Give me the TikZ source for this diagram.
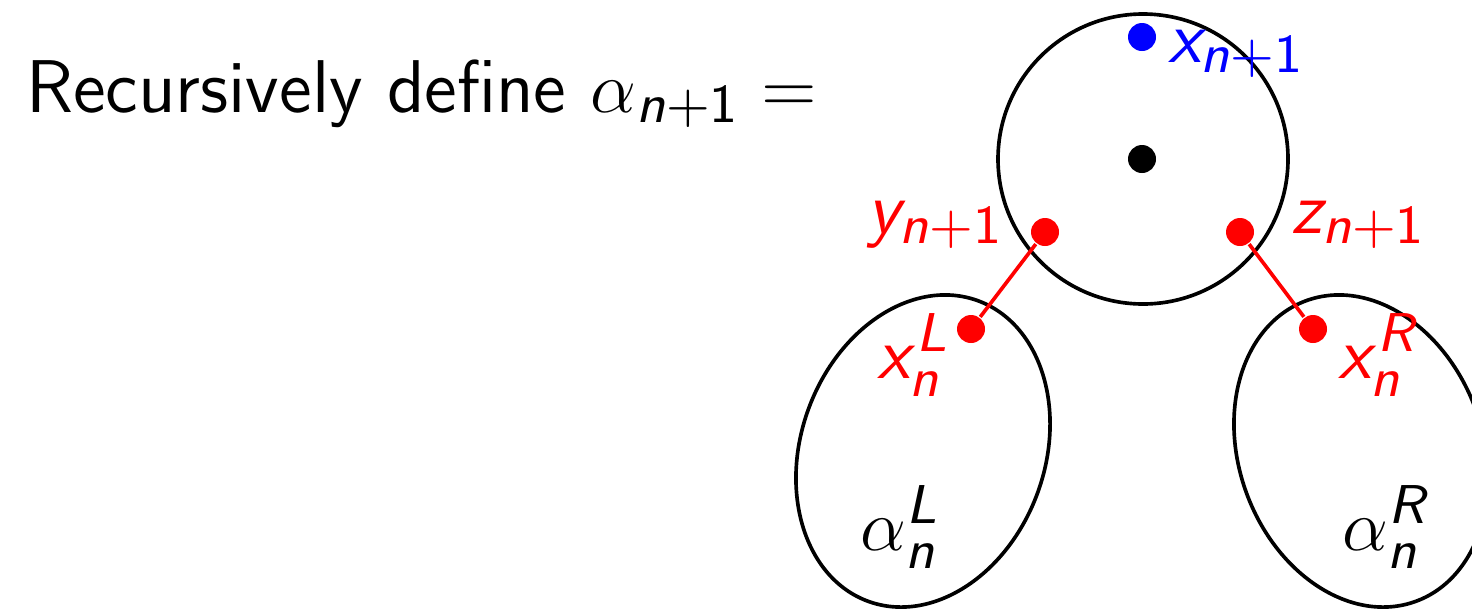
\documentclass[tikz,border=0pt]{standalone}
\usepackage{amsmath}
\DeclareMathAlphabet{\mathsfsl}{OT1}{cmss}{m}{sl}
\DeclareSymbolFont{operators}{OT1}{cmss}{m}{n}
\newcommand{\sv}[1]{\mathsfsl{#1}}

\begin{document}
\begin{tikzpicture}[x=0.005776cm, y=0.005776cm,
    punct/.style={circle, fill, inner sep=0pt, minimum size=28*0.005776cm},
    eticheta/.style={inner sep=0pt, font=\sffamily\fontsize{12.5}{14}\selectfont},
    contur/.style={line width=0.6pt}]
    \useasboundingbox (0,0) rectangle (1472,609);
    % Textul din stanga
    \node[eticheta, font=\sffamily\fontsize{12.3}{14}\selectfont, anchor=base west] (titlu) at (25,497)
      {Recursively define $\alpha_{\sv{n}+1} =$};
    % Cercul de sus si elipsele de jos
    \draw[contur] (1143,450) circle [radius=145];
    \draw[contur] (923,158) ellipse [x radius=122, y radius=160, rotate=-20];
    \draw[contur] (1361,158) ellipse [x radius=122, y radius=160, rotate=20];
    % Puncte
    \node[punct, blue]  (xn1) at (1142,572) {};
    \node[punct, black] (rad) at (1142,450) {};
    \node[punct, red]   (yn1) at (1045,377) {};
    \node[punct, red]   (zn1) at (1240,377) {};
    \node[punct, red]   (xL)  at (971,280)  {};
    \node[punct, red]   (xR)  at (1313,280) {};
    % Legaturi rosii
    \draw[red, contur] (yn1) -- (xL);
    \draw[red, contur] (zn1) -- (xR);
    % Etichete
    \node[eticheta, blue, anchor=base west] (lxn1) at (1167,547) {$\sv{x}_{\sv{n}+1}$};
    \node[eticheta, red, anchor=base east]  (lyn1) at (1006,376) {$\sv{y}_{\sv{n}+1}$};
    \node[eticheta, red, anchor=base west]  (lzn1) at (1290,376) {$\sv{z}_{\sv{n}+1}$};
    \node[eticheta, red, anchor=base west]  (lxL)  at (876,231)  {$\sv{x}_{\sv{n}}^{\sv{L}}$};
    \node[eticheta, red, anchor=base west]  (lxR)  at (1337,231) {$\sv{x}_{\sv{n}}^{\sv{R}}$};
    \node[eticheta, anchor=base west] (aL) at (859,59)  {$\alpha_{\sv{n}}^{\sv{L}}$};
    \node[eticheta, anchor=base west] (aR) at (1341,59) {$\alpha_{\sv{n}}^{\sv{R}}$};
\end{tikzpicture}
\end{document}
